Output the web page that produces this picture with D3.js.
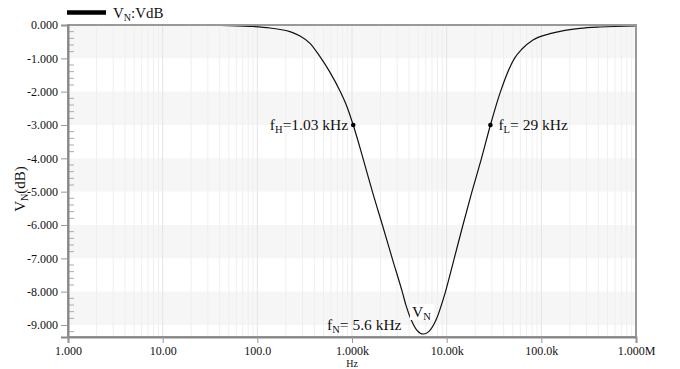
<!DOCTYPE html>
<html>
<head>
<meta charset="utf-8">
<script src="https://cdn.jsdelivr.net/npm/d3@7/dist/d3.min.js"></script>
<style>
  html, body { margin: 0; padding: 0; background: #fff; }
  svg { display: block; }
  svg text { font-family: "Liberation Serif", "DejaVu Serif", "Times New Roman", Times, serif; fill: #111; }
</style>
</head>
<body>
<svg id="chart" width="680" height="369"></svg>
<script>
// ---- data ----
const freqs = [1, 10, 20, 40.3, 83.6, 136, 221, 282, 360, 459, 586, 747, 885, 1030,
  1316, 1654, 2110, 2678, 3415, 3718, 4272, 4859, 5664, 6506, 7714, 9602, 11950, 14765, 18380,
  23330, 29000, 37030, 52050, 62470, 81620, 123400, 177800, 256000, 416400, 1000000];
const dbValues = [0, 0, -0.003, -0.01, -0.04, -0.09, -0.20, -0.33, -0.55, -0.95, -1.42, -1.98, -2.45, -3.00,
  -4.03, -5.03, -6.03, -7.03, -8.03, -8.41, -8.88, -9.16, -9.27, -9.19, -8.85, -8.05, -7.03, -6.03, -5.03,
  -4.00, -3.00, -2.00, -1.00, -0.72, -0.45, -0.26, -0.16, -0.10, -0.06, -0.03];

const xTickValues = [1, 10, 100, 1000, 10000, 100000, 1000000];
const xTickLabels = ["1.000", "10.00", "100.0", "1.000k", "10.00k", "100.0k", "1.000M"];
const yTickValues = [0, -1, -2, -3, -4, -5, -6, -7, -8, -9];
const yTickLabels = ["0.000", "-1.000", "-2.000", "-3.000", "-4.000", "-5.000", "-6.000", "-7.000", "-8.000", "-9.000"];

const markerFreqs = [1030, 29000];
const markerDb = [-3, -3];

// ---- layout ----
const svg = d3.select("#chart");
const L = 68, R = 636, T = 25, B = 337;
const x = d3.scaleLog().domain([1, 1e6]).range([L, R]);
const y = d3.scaleLinear().domain([-9.36, 0]).range([B, T]);

// horizontal bands
const bandTops = [0, -2, -4, -6, -8];
svg.append("g").selectAll("rect").data(bandTops).join("rect")
  .attr("x", L).attr("width", R - L)
  .attr("y", d => y(d)).attr("height", d => y(d - 1) - y(d))
  .attr("fill", "#f6f6f6");

// vertical grid lines (log minor + major)
const gridVals = [];
for (let e = 0; e < 6; e++) for (let m = 1; m < 10; m++) gridVals.push(m * Math.pow(10, e));
gridVals.push(1e6);
svg.append("g").selectAll("line").data(gridVals).join("line")
  .attr("x1", d => x(d)).attr("x2", d => x(d))
  .attr("y1", T).attr("y2", B)
  .attr("stroke", d => (Math.abs(Math.log10(d) - Math.round(Math.log10(d))) < 1e-9) ? "#e4e4e4" : "#efefef")
  .attr("stroke-width", 1);

// curve
const pts = freqs.map((f, i) => [f, dbValues[i]]);
const line = d3.line().x(d => x(d[0])).y(d => y(d[1])).curve(d3.curveMonotoneX);
svg.append("path").datum(pts)
  .attr("d", line).attr("fill", "none")
  .attr("stroke", "#111").attr("stroke-width", 1.2);

// frame
svg.append("rect").attr("x", L).attr("y", T).attr("width", R - L).attr("height", B - T)
  .attr("fill", "none").attr("stroke", "#999").attr("stroke-width", 2);

// y minor ticks (inside)
const yMinor = [];
for (let k = 1; k <= 46; k++) { const v = -k * 0.2; if (k % 5 !== 0) yMinor.push(v); }
svg.append("g").selectAll("line").data(yMinor).join("line")
  .attr("x1", L + 1).attr("x2", L + 6)
  .attr("y1", d => y(d)).attr("y2", d => y(d))
  .attr("stroke", "#aaa").attr("stroke-width", 1);

// axes
const yAxis = svg.append("g").attr("transform", `translate(${L},0)`)
  .call(d3.axisLeft(y).tickValues(yTickValues).tickFormat((d, i) => yTickLabels[i]).tickSize(7).tickPadding(3));
yAxis.attr("font-family", null);
yAxis.select(".domain").attr("stroke", "#888").attr("stroke-width", 2);
yAxis.selectAll(".tick line").attr("stroke", "#999");
yAxis.selectAll(".tick text").style("font-size", "12px").attr("fill", "#111");

const xAxis = svg.append("g").attr("transform", `translate(0,${B})`)
  .call(d3.axisBottom(x).tickValues(xTickValues).tickFormat((d, i) => xTickLabels[i]).tickSize(6).tickPadding(3));
xAxis.attr("font-family", null);
xAxis.select(".domain").attr("stroke", "#888").attr("stroke-width", 2);
xAxis.selectAll(".tick line").attr("stroke", "#999");
xAxis.selectAll(".tick text").style("font-size", "12px").attr("fill", "#111");

// axis titles
svg.append("text").attr("x", (L + R) / 2).attr("y", 366.5).attr("text-anchor", "middle")
  .style("font-size", "10px").text("Hz");

const yt = svg.append("text").attr("transform", "translate(25,189) rotate(-90)")
  .attr("text-anchor", "middle").style("font-size", "15px");
yt.append("tspan").text("V");
yt.append("tspan").style("font-size", "10px").attr("dy", 3).text("N");
yt.append("tspan").attr("dy", -3).text("(dB)");

// legend
svg.append("line").attr("x1", 67).attr("x2", 106).attr("y1", 12.5).attr("y2", 12.5)
  .attr("stroke", "#000").attr("stroke-width", 4.5);
const lg = svg.append("text").attr("x", 113).attr("y", 18).style("font-size", "15px");
lg.append("tspan").text("V");
lg.append("tspan").style("font-size", "10px").attr("dy", 3).text("N");
lg.append("tspan").attr("dy", -3).text(":VdB");

// markers
svg.append("g").selectAll("circle").data(markerFreqs).join("circle")
  .attr("cx", d => x(d)).attr("cy", (d, i) => y(markerDb[i])).attr("r", 2.3).attr("fill", "#000");

// annotations
function sub(t, main, subTxt, rest) {
  t.append("tspan").text(main);
  t.append("tspan").style("font-size", "10.5px").attr("dy", 3).text(subTxt);
  t.append("tspan").attr("dy", -3).text(rest);
}
const aH = svg.append("text").attr("x", x(1030) - 5).attr("y", y(-3) + 5).attr("text-anchor", "end").style("font-size", "15.5px");
sub(aH, "f", "H", "=1.03 kHz");
const aL = svg.append("text").attr("x", x(29000) + 8).attr("y", y(-3) + 5).style("font-size", "15.5px");
sub(aL, "f", "L", "= 29 kHz");
const aN = svg.append("text").attr("x", 327).attr("y", 330).style("font-size", "15.5px");
sub(aN, "f", "N", "= 5.6 kHz");
svg.append("rect").attr("x", 410).attr("y", 304).attr("width", 24).attr("height", 16).attr("fill", "#fff");
const aV = svg.append("text").attr("x", 412).attr("y", 317).style("font-size", "15.5px");
sub(aV, "V", "N", "");
</script>
</body>
</html>
